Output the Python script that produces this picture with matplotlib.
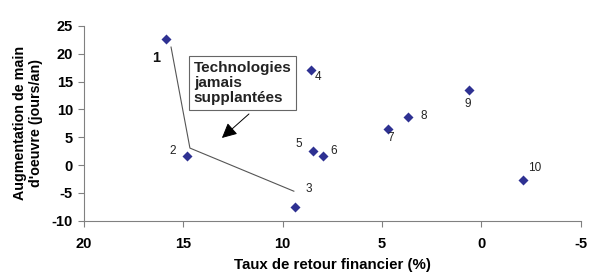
import matplotlib
matplotlib.use("Agg")
import matplotlib.pyplot as plt

plt.rcParams['font.family'] = ['Liberation Sans', 'DejaVu Sans']

labels = ['1', '2', '3', '4', '5', '6', '7', '8', '9', '10']
x_return = [15.85, 14.8, 9.4, 8.6, 8.5, 7.95, 4.7, 3.7, 0.65, -2.1]
y_labour = [22.6, 1.6, -7.5, 17.1, 2.6, 1.6, 6.5, 8.6, 13.5, -2.6]
# label positions (data coords) for point numbers
lab_x = [16.39, 15.52, 8.68, 8.21, 9.19, 7.42, 4.56, 2.91, 0.7, -2.67]
lab_y = [19.2, 2.6, -4.3, 15.9, 3.8, 2.6, 4.9, 8.8, 11.0, -0.6]

# frontier line ("technologies jamais supplantées")
front_x = [15.62, 14.67, 9.44]
front_y = [21.2, 3.05, -4.7]

xticks = [20, 15, 10, 5, 0, -5]
yticks = [-10, -5, 0, 5, 10, 15, 20, 25]

fig = plt.figure(figsize=(6.0, 2.79), dpi=100)
ax = fig.add_axes([0.14, 0.209, 0.828, 0.698])

ax.plot(front_x, front_y, color='#555555', lw=0.8, zorder=1)
ax.scatter(x_return, y_labour, marker='D', s=26, color='#2e3192', zorder=3, linewidths=0)

for lx, ly, t in zip(lab_x, lab_y, labels):
    if t == '1':
        ax.text(lx, ly, t, fontsize=10.5, fontweight='bold', ha='center', va='center', color='#111111')
    else:
        ax.text(lx, ly, t, fontsize=8.5, ha='center', va='center', color='#222222')

ax.text(14.47, 14.75, 'Technologies\njamais\nsupplantées', fontsize=11, fontweight='bold',
        ha='left', va='center', linespacing=1.12, color='#222222',
        bbox=dict(boxstyle='square,pad=0.3', fc='white', ec='#666666', lw=0.8))
ax.annotate('', xy=(13.06, 4.87), xytext=(11.7, 9.18),
            arrowprops=dict(arrowstyle='-|>,head_length=0.9,head_width=0.45', color='black', lw=0.7,
                            shrinkA=0, shrinkB=0))

ax.set_xlim(20, -5)
ax.set_ylim(-10, 25)
ax.set_xticks(xticks)
ax.set_yticks(yticks)
ax.set_xticklabels([str(v) for v in xticks], fontweight='bold', fontsize=10.5)
ax.set_yticklabels([str(v) for v in yticks], fontweight='bold', fontsize=10.5)
for s in ['top', 'right']:
    ax.spines[s].set_visible(False)
for s in ['left', 'bottom']:
    ax.spines[s].set_color('#808080')
    ax.spines[s].set_linewidth(0.8)
ax.tick_params(axis='both', direction='out', length=4, color='#808080', width=0.8, pad=4)
ax.tick_params(axis='x', pad=8)

ax.set_xlabel('Taux de retour financier (%)', fontweight='bold', fontsize=10.8, labelpad=5)
ax.set_ylabel("Augmentation de main\nd'oeuvre (jours/an)", fontweight='bold', fontsize=10.3,
              labelpad=6, linespacing=1.25)

fig.savefig('out.png', dpi=100)
